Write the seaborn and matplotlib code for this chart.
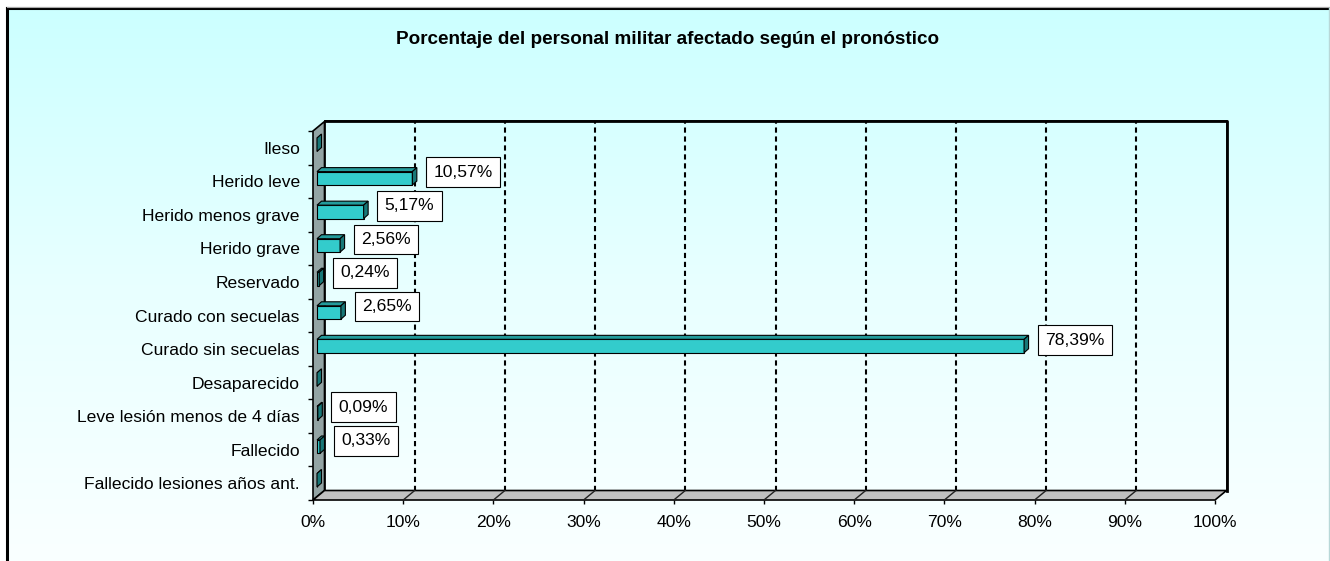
import numpy as np
import pandas as pd
import matplotlib
matplotlib.use("Agg")
import matplotlib.pyplot as plt
from matplotlib.colors import LinearSegmentedColormap
from matplotlib.patches import Polygon
import seaborn as sns

# datos
categorias = ["Ileso", "Herido leve", "Herido menos grave", "Herido grave",
              "Reservado", "Curado con secuelas", "Curado sin secuelas",
              "Desaparecido", "Leve lesión menos de 4 días", "Fallecido",
              "Fallecido lesiones años ant."]
porcentajes = [0.0, 10.57, 5.17, 2.56, 0.24, 2.65, 78.39, 0.0, 0.09, 0.33, 0.0]
etiquetas = ["", "10,57%", "5,17%", "2,56%", "0,24%", "2,65%", "78,39%",
             "", "0,09%", "0,33%", ""]
ticks_x = list(range(0, 101, 10))
titulo = "Porcentaje del personal militar afectado según el pronóstico"

plt.rcParams['font.family'] = ['Liberation Sans', 'DejaVu Sans']
FS = 12.6

W, H = 1330, 561
fig = plt.figure(figsize=(W / 100, H / 100), dpi=100)

# fondo degradado con marco
bg = fig.add_axes([0, 0, 1, 1])
bg.set_xlim(0, W)
bg.set_ylim(H, 0)
bg.axis('off')
cmap = LinearSegmentedColormap.from_list("fondo", ["#CCFFFF", "#E8FFFF", "#FAFFFF"])
grad = np.linspace(0, 1, 256)[:, None]
bg.imshow(grad, extent=(7, W - 1, H, 8), cmap=cmap, aspect='auto')
bg.plot([7, 7], [8, H], color='black', lw=2.2)
bg.plot([7, W], [8, 8], color='black', lw=2.2)
bg.plot([7, W], [7, 7], color='#AAAAAA', lw=0.8)
bg.plot([W - 1, W - 1], [8, H], color='#B8D8D8', lw=1)
bg.set_zorder(0)

# ejes (plano frontal del gráfico 3D)
ax_l, ax_r, ax_t, ax_b = 313, 1215, 131, 500
ax = fig.add_axes([ax_l / W, 1 - ax_b / H, (ax_r - ax_l) / W, (ax_b - ax_t) / H])
ax.set_zorder(1)
ax.patch.set_alpha(0)

df = pd.DataFrame({"categoria": categorias, "porcentaje": porcentajes})
sns.barplot(data=df, x="porcentaje", y="categoria", orient="h", color="#33CCCC",
            saturation=1, width=0.40, edgecolor="black", linewidth=0.8, ax=ax,
            zorder=5)

n = len(categorias)
ax.set_xlim(0, 100)
ax.set_ylim(n - 0.5, -0.5)
ux = 100 / (ax_r - ax_l)
uy = n / (ax_b - ax_t)


def P(x, y, dx=0.0, dy=0.0):
    # desplaza un punto de datos en píxeles (derecha, arriba)
    return (x + dx * ux, y - dy * uy)


DX, DY = 11.5, 9.5        # profundidad del gráfico
SX, SY = 4.0, 3.0         # desplazamiento de las barras
BX, BY = 4.5, 4.0         # profundidad de las barras
y0, y1 = -0.5, n - 0.5

# pared del fondo
ax.add_patch(Polygon([P(0, y0, DX, DY), P(100, y0, DX, DY), P(100, y1, DX, DY), P(0, y1, DX, DY)],
                     closed=True, facecolor='none', edgecolor='black', lw=1.2,
                     clip_on=False, zorder=1))
ax.plot(*zip(P(0, y0, DX, DY), P(100, y0, DX, DY), P(100, y1, DX, DY)),
        color='black', lw=2, clip_on=False, zorder=1)
# pared izquierda
ax.add_patch(Polygon([P(0, y0), P(0, y0, DX, DY), P(0, y1, DX, DY), P(0, y1)],
                     closed=True, facecolor='#93A4A4', edgecolor='black', lw=1.2,
                     clip_on=False, zorder=2))
# suelo
ax.add_patch(Polygon([P(0, y1), P(100, y1), P(100, y1, DX, DY), P(0, y1, DX, DY)],
                     closed=True, facecolor='#C0C0C0', edgecolor='black', lw=1.2,
                     clip_on=False, zorder=2))

# líneas de división
for t in ticks_x[1:-1]:
    ax.plot(*zip(P(t, y1, DX, DY), P(t, y0, DX, DY)), color='black', lw=1.5,
            dashes=(2.5, 1.8), clip_on=False, zorder=1.5)
    ax.plot(*zip(P(t, y1), P(t, y1, DX, DY)), color='#222222', lw=1,
            clip_on=False, zorder=2.5)

# barras en 3D
bars = [p for p in ax.patches if p.get_zorder() == 5]
for bar, lab in zip(bars, etiquetas):
    bar.set_x(bar.get_x() + SX * ux)
    bar.set_y(bar.get_y() - SY * uy)
    xa = bar.get_x()
    xb = xa + bar.get_width()
    yt = bar.get_y()
    yb = yt + bar.get_height()
    ax.add_patch(Polygon([P(xa, yt), P(xb, yt), P(xb, yt, BX, BY), P(xa, yt, BX, BY)],
                         closed=True, facecolor='#239B9B', edgecolor='black', lw=0.8,
                         clip_on=False, zorder=6))
    ax.add_patch(Polygon([P(xb, yt), P(xb, yb), P(xb, yb, BX, BY), P(xb, yt, BX, BY)],
                         closed=True, facecolor='#187878', edgecolor='black', lw=0.8,
                         clip_on=False, zorder=6))
    if lab:
        yc = yt + bar.get_height() / 2
        ax.text(*P(xb, yc, 21, 6), lab, ha='left', va='center', fontsize=FS,
                zorder=8, clip_on=False,
                bbox=dict(boxstyle='square,pad=0.42', facecolor='white',
                          edgecolor='black', lw=0.8))

# ejes y etiquetas
for s in ax.spines.values():
    s.set_visible(False)
ax.set_xticks(ticks_x)
ax.set_xticklabels([f"{t}%" for t in ticks_x])
ax.tick_params(axis='x', length=3, width=1, pad=8, labelsize=FS, color='black')
ax.set_yticks(range(n))
ax.set_yticklabels(categorias)
ax.tick_params(axis='y', which='major', length=0, pad=9.5, labelsize=FS)
ax.set_yticks(np.arange(-0.5, n), minor=True)
ax.tick_params(axis='y', which='minor', length=3.5, width=1, color='black')
ax.set_xlabel("")
ax.set_ylabel("")

fig.text(668 / W, 1 - 40 / H, titulo, ha='center', va='center', fontsize=13.6,
         fontweight='bold')

fig.savefig("out.png", dpi=100)
